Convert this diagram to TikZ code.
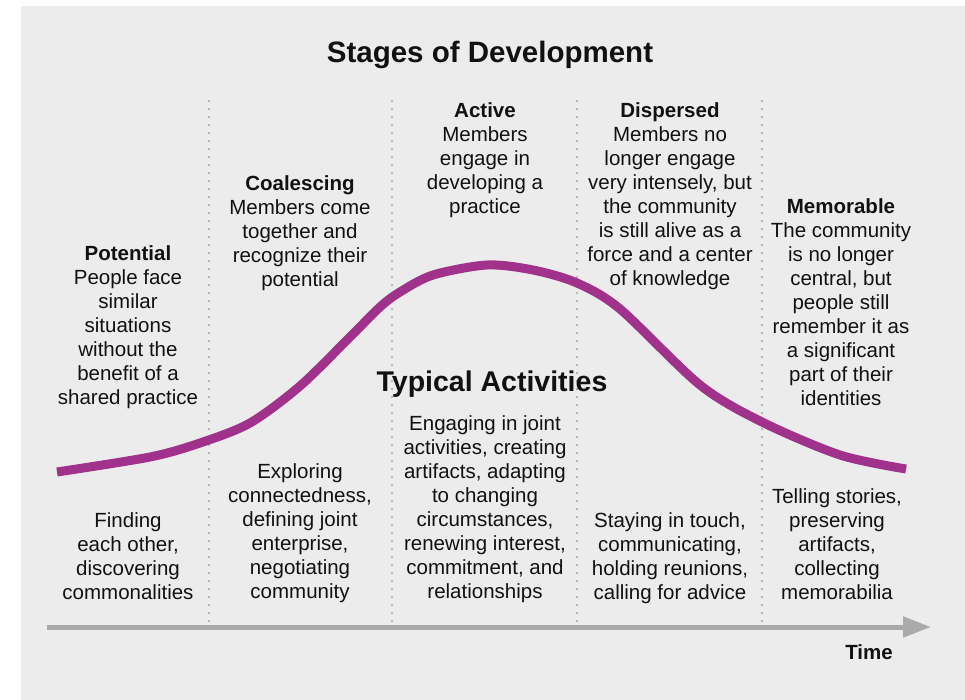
\documentclass[tikz,border=0pt]{standalone}
\usepackage{fontspec}
\setmainfont{Liberation Sans}
\usetikzlibrary{arrows.meta}
\definecolor{bg}{HTML}{ECECEC}
\definecolor{curvecol}{RGB}{160,50,140}
\definecolor{axiscol}{HTML}{AAAAAA}
\definecolor{dotcol}{HTML}{A4A4A4}
\definecolor{ink}{HTML}{111111}
\newcommand{\sv}{\rule[-6pt]{0pt}{24pt}}
\begin{document}
\begin{tikzpicture}[x=1pt,y=-1pt,
  txt/.style={align=center, inner sep=0pt, anchor=north, text=ink, font=\fontsize{20.5}{24}\selectfont},
  heading/.style={inner sep=0pt, anchor=base, text=ink, font=\fontsize{29.5}{34}\selectfont\bfseries},
  subheading/.style={inner sep=0pt, anchor=base, text=ink, font=\fontsize{28.5}{34}\selectfont\bfseries},
  timelabel/.style={inner sep=0pt, anchor=base, text=ink, font=\fontsize{20.5}{24}\selectfont\bfseries},
  sepline/.style={dotcol, line width=2.4pt, line cap=round, dash pattern=on 0pt off 8pt},
  curveline/.style={curvecol, line width=9pt},
  axisline/.style={axiscol, line width=5pt, -{Triangle[length=28pt,width=20pt]}}]
\useasboundingbox (0,0) rectangle (965,700);
\fill[bg] (21,6) rectangle (965,700);

% separators
\foreach \x in {209,392,577,762}
  \draw[sepline] (\x,101) -- (\x,621);

% axis
\coordinate (axs) at (47,627);
\coordinate (axe) at (931,627);
\draw[axisline] (axs) -- (axe);

% curve
\draw[curveline] plot[smooth, tension=0.5] coordinates
  {(57,472) (150,457) (200,443) (250,423) (300,386) (350,337) (380,307) (400,292) (433,275) (487,265) (533,270) (577,283) (620,309) (700,385) (762,422) (840,455) (906,469)};

% titles
\node[heading] (title) at (490,63) {Stages of Development};
\node[subheading] (typ) at (492,391) {Typical Activities};
\node[timelabel] (time) at (869,659) {Time};

% stages
\node[txt] (pot) at (128,242) {\sv\textbf{Potential}\\\sv People face\\\sv similar\\\sv situations\\\sv without the\\\sv benefit of a\\\sv shared practice};
\node[txt] (coa) at (300,172) {\sv\textbf{Coalescing}\\\sv Members come\\\sv together and\\\sv recognize their\\\sv potential};
\node[txt] (act) at (485,99) {\sv\textbf{Active}\\\sv Members\\\sv engage in\\\sv developing a\\\sv practice};
\node[txt] (dis) at (670,99) {\sv\textbf{Dispersed}\\\sv Members no\\\sv longer engage\\\sv very intensely, but\\\sv the community\\\sv is still alive as a\\\sv force and a center\\\sv of knowledge};
\node[txt] (mem) at (841,195) {\sv\textbf{Memorable}\\\sv The community\\\sv is no longer\\\sv central, but\\\sv people still\\\sv remember it as\\\sv a significant\\\sv part of their\\\sv identities};

% activities
\node[txt] (a1) at (128,509) {\sv Finding\\\sv each other,\\\sv discovering\\\sv commonalities};
\node[txt] (a2) at (300,460) {\sv Exploring\\\sv connectedness,\\\sv defining joint\\\sv enterprise,\\\sv negotiating\\\sv community};
\node[txt] (a3) at (485,412) {\sv Engaging in joint\\\sv activities, creating\\\sv artifacts, adapting\\\sv to changing\\\sv circumstances,\\\sv renewing interest,\\\sv commitment, and\\\sv relationships};
\node[txt] (a4) at (670,509) {\sv Staying in touch,\\\sv communicating,\\\sv holding reunions,\\\sv calling for advice};
\node[txt] (a5) at (837,485) {\sv Telling stories,\\\sv preserving\\\sv artifacts,\\\sv collecting\\\sv memorabilia};
\end{tikzpicture}
\end{document}
